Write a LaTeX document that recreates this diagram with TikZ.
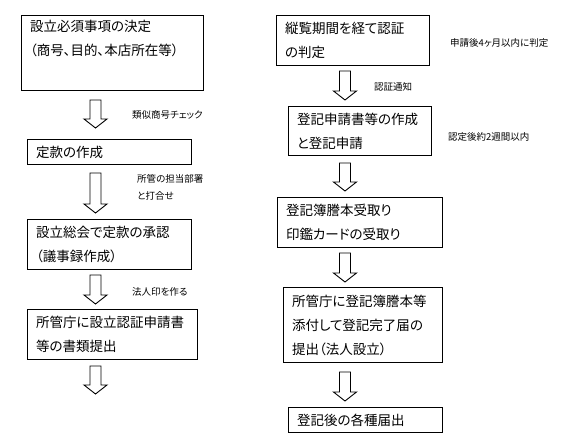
\documentclass[tikz,border=0pt]{standalone}
\usepackage{fontspec}
\setmainfont{Noto Sans CJK JP}[RawFeature={+palt}]
\newcommand\blkarrow[3]{%
  \draw[arrowshape] (#1-5.5,#2) -- (#1+5.5,#2) -- (#1+5.5,#3-9) -- (#1+11.5,#3-9)
    -- (#1,#3) -- (#1-11.5,#3-9) -- (#1-5.5,#3-9) -- cycle;}
\tikzset{
  box/.style={draw, line width=1.1pt, anchor=north west, inner xsep=8.5pt, inner ysep=0pt,
    align=left, font=\fontsize{13.5}{24}\selectfont},
  lbl/.style={anchor=west, inner sep=0pt, align=left, font=\fontsize{9.5}{17}\selectfont},
  arrowshape/.style={draw, fill=white, line width=0.9pt, line join=miter}
}
\begin{document}
\begin{tikzpicture}[x=1pt,y=-1pt]
\useasboundingbox[fill=white] (0,0) rectangle (564,443);
% left column
\node[box, minimum width=182pt, minimum height=75pt, text width=165pt] (b1) at (21,15)
  {設立必須事項の決定\\（商号、目的、本店所在等）\\\strut};
\node[box, minimum width=164pt, minimum height=25pt, text width=147pt] (b2) at (27,139)
  {定款の作成};
\node[box, minimum width=164pt, minimum height=50pt, text width=147pt] (b3) at (27,219)
  {設立総会で定款の承認\\（議事録作成）};
\node[box, minimum width=170pt, minimum height=50pt, text width=153pt] (b4) at (27,309)
  {所管庁に設立認証申請書\\等の書類提出};
% right column
\node[box, minimum width=153pt, minimum height=50pt, text width=136pt] (b5) at (276,15)
  {縦覧期間を経て認証\\の判定};
\node[box, minimum width=143pt, minimum height=49pt, text width=126pt] (b6) at (288,106)
  {登記申請書等の作成\\と登記申請};
\node[box, minimum width=165pt, minimum height=50pt, text width=148pt] (b7) at (277,197)
  {登記簿謄本受取り\\印鑑カードの受取り};
\node[box, minimum width=159pt, minimum height=75pt, text width=142pt] (b8) at (283,287)
  {所管庁に登記簿謄本等\\添付して登記完了届の\\提出（法人設立）};
\node[box, minimum width=154pt, minimum height=25pt, text width=137pt] (b9) at (288,407)
  {登記後の各種届出};
% arrows
\blkarrow{95.5}{100}{128}
\blkarrow{95.5}{173}{213}
\blkarrow{95.5}{275}{304}
\blkarrow{95.5}{366}{394}
\blkarrow{345}{71}{100}
\blkarrow{345}{163}{191}
\blkarrow{345}{253}{282}
\blkarrow{345}{372}{401}
% labels
\node[lbl] (l1) at (132,115) {類似商号チェック};
\node[lbl] (l2) at (137,187.5) {所管の担当部署\\と打合せ};
\node[lbl] (l3) at (132,292) {法人印を作る};
\node[lbl] (l4) at (450,43) {申請後4ヶ月以内に判定};
\node[lbl] (l5) at (374,87) {認証通知};
\node[lbl] (l6) at (448,137) {認定後約2週間以内};
\end{tikzpicture}
\end{document}
